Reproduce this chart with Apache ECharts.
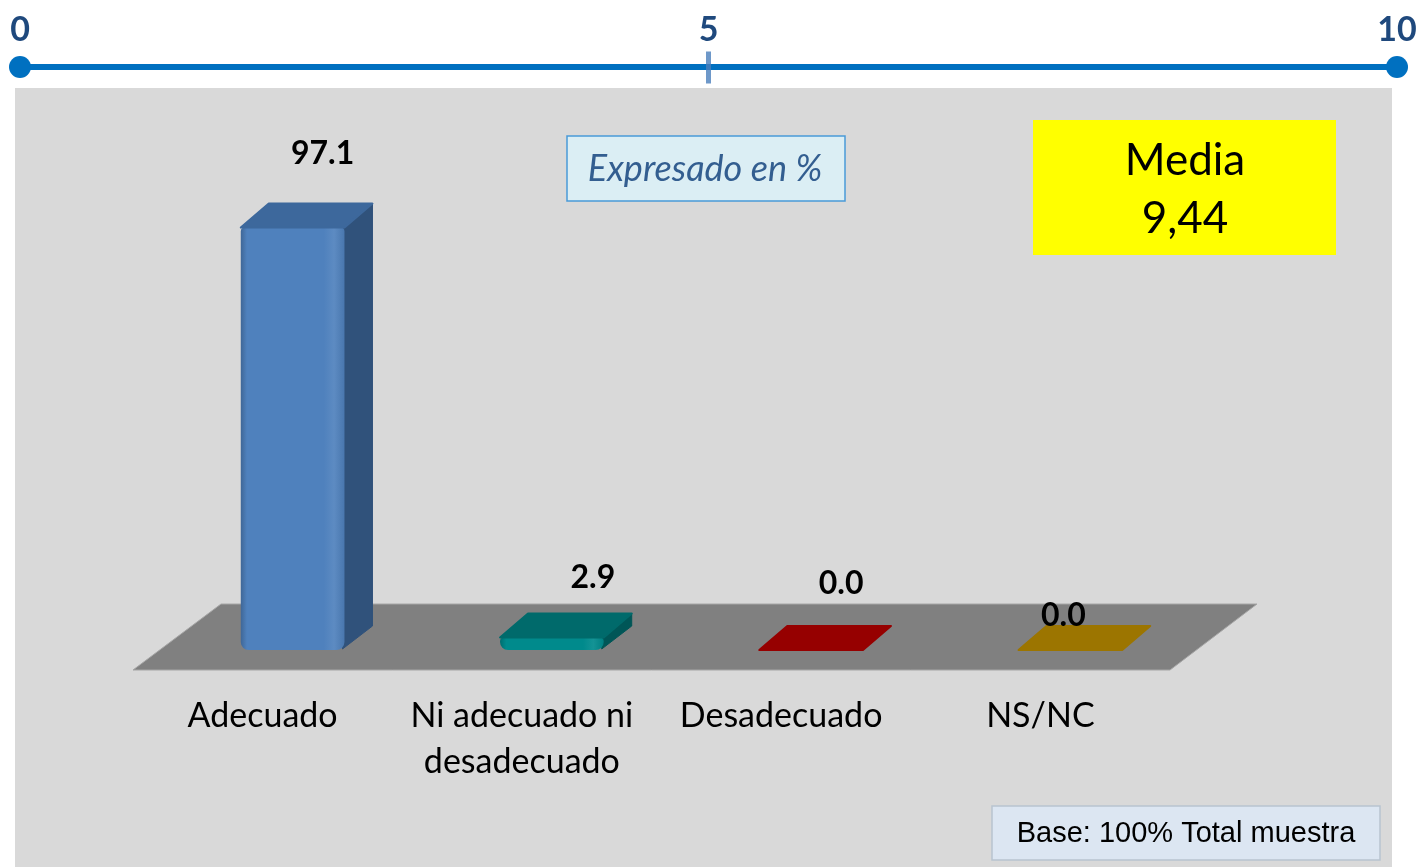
<!DOCTYPE html>
<html lang="es">
<head>
<meta charset="UTF-8">
<title>Valoración</title>
<script src="https://cdn.jsdelivr.net/npm/echarts@6/dist/echarts.min.js"></script>
</head>
<body style="margin:0">
<div id="main" style="width:1424px;height:867px;"></div>
<script>
var categorias = ['Adecuado', 'Ni adecuado ni\ndesadecuado', 'Desadecuado', 'NS/NC'];
var valores = [97.1, 2.9, 0.0, 0.0];
var escalaTicks = [0, 5, 10];
var media = '9,44';

// colores de cada barra: frente, tapa, lateral
var colFrente = ['#4f81bd', '#008a8c', '#b00000', '#bf9000'];
var colTapa = ['#3d689c', '#006a6b', '#960000', '#9c7500'];
var colLado = ['#30527b', '#005657', '#700000', '#7a5c00'];
// pequeños ajustes de las etiquetas (como en el original)
var ajusteEtiqueta = {0: [0, -8], 1: [11, 6], 3: [-37, 32]};

function tono(hex, f) {
    var n = parseInt(hex.slice(1), 16);
    var c = [(n >> 16) & 255, (n >> 8) & 255, n & 255].map(function (v) {
        return Math.round(f < 0 ? v * (1 + f) : v + (255 - v) * f);
    });
    return 'rgb(' + c.join(',') + ')';
}

function suelo(params, api) {
    var cs = params.coordSys;
    var yb = cs.y + cs.height;
    return {
        type: 'polygon',
        shape: {points: [[cs.x, yb], [cs.x + cs.width, yb], [cs.x + cs.width + 87, yb - 66], [cs.x + 88, yb - 66]]},
        style: {fill: '#808080', stroke: '#a6a6a6', lineWidth: 1}
    };
}

function barra(params, api) {
    var i = api.value(0), v = api.value(1);
    var base = api.coord([i, 0]);
    var cima = api.coord([i, v]);
    var w = api.size([1, 0])[0] * 0.4;
    var dx = 28, dy = 24;
    var cx = base[0] + 30;
    var x0 = cx - w / 2, x1 = cx + w / 2;
    var yb = base[1] - 20;
    var h = base[1] - cima[1];
    var yt = yb - h;
    var hijos = [];
    if (h > 0.5) {
        hijos.push({
            type: 'polygon',
            shape: {points: [[x1 - 2, yt], [x1 + dx, yt - dy], [x1 + dx, yb - dy], [x1 - 2, yb - 1]]},
            style: {fill: colLado[i], stroke: colLado[i], lineWidth: 1, lineJoin: 'round'}
        });
        hijos.push({
            type: 'rect',
            shape: {x: x0, y: yt, width: w, height: h, r: h > 12 ? [4, 4, 8, 8] : 3},
            style: {fill: new echarts.graphic.LinearGradient(0, 0, 1, 0, [
                {offset: 0, color: tono(colFrente[i], -0.2)},
                {offset: 0.06, color: colFrente[i]},
                {offset: 0.8, color: colFrente[i]},
                {offset: 0.9, color: tono(colFrente[i], 0.08)},
                {offset: 1, color: tono(colFrente[i], -0.08)}
            ])}
        });
    }
    hijos.push({
        type: 'polygon',
        shape: {points: [[x0, yt], [x1, yt], [x1 + dx, yt - dy], [x0 + dx, yt - dy]]},
        style: {fill: colTapa[i], stroke: colTapa[i], lineWidth: 2, lineJoin: 'round'}
    });
    var aj = ajusteEtiqueta[i] || [0, 0];
    hijos.push({
        type: 'text',
        x: cx + 30 + aj[0],
        y: yt - 66 + aj[1],
        z2: 10,
        style: {text: v.toFixed(1), font: 'bold 32px Lato', fill: '#000', align: 'center', verticalAlign: 'middle'}
    });
    return {type: 'group', children: hijos};
}

var myChart = echarts.init(document.getElementById('main'));
var option = {
    backgroundColor: '#ffffff',
    animation: false,
    grid: [
        {left: 133, right: 254, top: 235, bottom: 197},
        {left: 20, right: 27, top: 67, height: 1}
    ],
    xAxis: [
        {
            type: 'category', gridIndex: 0, data: categorias,
            axisLine: {show: false}, axisTick: {show: false},
            axisLabel: {margin: 23, fontSize: 34, fontFamily: 'Lato', color: '#000', lineHeight: 46, interval: 0}
        },
        {
            type: 'value', gridIndex: 1, min: escalaTicks[0], max: escalaTicks[2], interval: escalaTicks[1],
            position: 'top', splitLine: {show: false}, axisTick: {show: false},
            axisLine: {show: true, onZero: false, symbol: ['circle', 'circle'], symbolSize: [22, 22],
                lineStyle: {color: '#0070c0', width: 6}},
            axisLabel: {margin: 20, fontSize: 34, fontWeight: 'bold', fontFamily: 'Lato', color: '#1f497d'}
        }
    ],
    yAxis: [
        {type: 'value', gridIndex: 0, min: 0, max: 100, show: false},
        {type: 'value', gridIndex: 1, min: -1, max: 1, show: false}
    ],
    graphic: [
        {type: 'rect', z: -10, shape: {x: 15, y: 88, width: 1377, height: 779}, style: {fill: '#d9d9d9'}},
        {type: 'rect', z: 10, shape: {x: 567, y: 136, width: 278, height: 65}, style: {fill: '#dbeef4', stroke: '#4a9ad8', lineWidth: 1.5}},
        {type: 'text', z: 11, x: 705, y: 169, style: {text: 'Expresado en %', font: 'italic 36px Lato', fill: '#335e90', align: 'center', verticalAlign: 'middle'}},
        {type: 'rect', z: 10, shape: {x: 1033, y: 120, width: 303, height: 135}, style: {fill: '#ffff00'}},
        {type: 'text', z: 11, x: 1185, y: 161, style: {text: 'Media', font: '44px Lato', fill: '#000', align: 'center', verticalAlign: 'middle'}},
        {type: 'text', z: 11, x: 1185, y: 219, style: {text: media, font: '44px Lato', fill: '#000', align: 'center', verticalAlign: 'middle'}},
        {type: 'rect', z: 10, shape: {x: 992, y: 806, width: 388, height: 54}, style: {fill: '#dce6f2', stroke: '#b8c4d0', lineWidth: 1.5}},
        {type: 'text', z: 11, x: 1186, y: 834, style: {text: 'Base: 100% Total muestra', font: '29px "Liberation Sans"', fill: '#000', align: 'center', verticalAlign: 'middle'}}
    ],
    series: [
        {type: 'custom', xAxisIndex: 0, yAxisIndex: 0, z: 1, silent: true, renderItem: suelo, data: [0]},
        {
            type: 'custom', xAxisIndex: 0, yAxisIndex: 0, z: 3, silent: true, renderItem: barra,
            data: valores.map(function (v, i) { return [i, v]; })
        },
        {
            type: 'scatter', xAxisIndex: 1, yAxisIndex: 1, z: 5, silent: true,
            symbol: 'rect', symbolSize: [5, 32], itemStyle: {color: '#4a7ebb'},
            data: [[escalaTicks[1], 0]]
        }
    ]
};
myChart.setOption(option);
</script>
</body>
</html>
